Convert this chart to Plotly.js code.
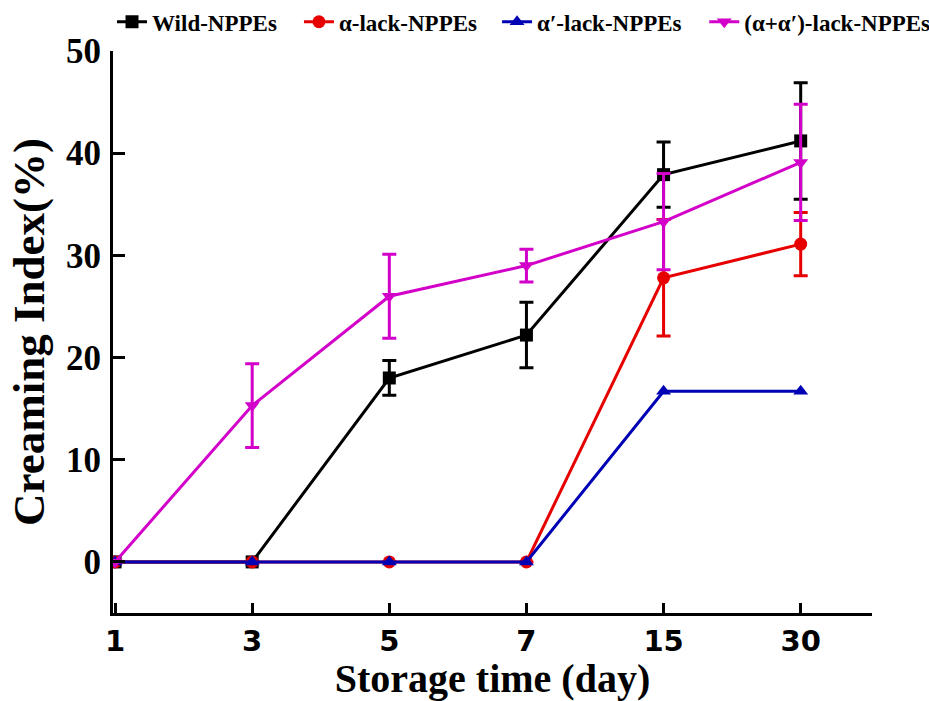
<!DOCTYPE html>
<html><head><meta charset="utf-8">
<script src="https://cdn.plot.ly/plotly-3.0.1.min.js"></script>
<style>html,body{margin:0;padding:0;background:#fff}#chart{width:929px;height:701px}</style>
</head><body><div id="chart"></div>
<script>
const days = ['1','3','5','7','15','30'];
const wild = [0, 0, 18.0, 22.2, 37.9, 41.2];
const wildErr = [0, 0, 1.7, 3.2, 3.2, 5.7];
const alphaLack = [0, 0, 0, 0, 27.8, 31.1];
const alphaLackErr = [0, 0, 0, 0, 5.7, 3.1];
const alphaPrimeLack = [0, 0, 0, 0, 16.7, 16.7];
const alphaPrimeLackErr = [0, 0, 0, 0, 0, 0];
const bothLack = [0, 15.3, 26.0, 29.0, 33.3, 39.1];
const bothLackErr = [0, 4.1, 4.1, 1.6, 4.7, 5.7];
const names = ['Wild-NPPEs', 'α-lack-NPPEs', 'α′-lack-NPPEs', '(α+α′)-lack-NPPEs'];
const colors = ['#000000', '#e60000', '#0000b4', '#d200c8'];
const symbols = ['square', 'circle', 'triangle-up', 'triangle-down'];
const series = [wild, alphaLack, alphaPrimeLack, bothLack];
const errs = [wildErr, alphaLackErr, alphaPrimeLackErr, bothLackErr];
const legendIds = ['legend', 'legend2', 'legend3', 'legend4'];
const legendX = [-0.0013, 0.245, 0.506, 0.779];

const traces = series.map((s, i) => ({
  x: days, y: s, name: names[i], type: 'scatter', mode: 'lines+markers',
  legend: legendIds[i],
  line: {color: colors[i], width: 3},
  marker: {symbol: symbols[i], size: 13, color: colors[i]},
  error_y: {type: 'data', array: errs[i], visible: i !== 2, color: colors[i], thickness: 3, width: 7}
}));

const legendStyle = x => ({orientation: 'h', x: x, xanchor: 'left', y: 1.052, yanchor: 'middle',
  font: {family: 'Liberation Serif', size: 23, weight: 'bold', color: '#000'},
  itemwidth: 30, bgcolor: 'rgba(0,0,0,0)'});

const layout = {
  width: 929, height: 701,
  margin: {l: 113, r: 57, t: 51, b: 88, autoexpand: false},
  paper_bgcolor: '#fff', plot_bgcolor: '#fff',
  showlegend: true,
  xaxis: {type: 'category', range: [-0.015, 5.52], showgrid: false, zeroline: false,
    showline: true, linecolor: '#000', linewidth: 3,
    ticks: 'inside', ticklen: 10, tickwidth: 2.5, tickcolor: '#000',
    tickfont: {family: 'DejaVu Sans', size: 29, weight: 'bold', color: '#000'},
    title: {text: 'Storage time (day)', font: {family: 'Liberation Serif', size: 40, weight: 'bold', color: '#000'}, standoff: 13}},
  yaxis: {range: [-5, 50], tickvals: [0, 10, 20, 30, 40, 50], showgrid: false, zeroline: false,
    showline: true, linecolor: '#000', linewidth: 3,
    ticks: 'inside', ticklen: 12, tickwidth: 2.5, tickcolor: '#000',
    tickfont: {family: 'Liberation Serif', size: 35, weight: 'bold', color: '#000'},
    ticklabelstandoff: 2,
    title: {text: 'Creaming Index(%)', font: {family: 'Liberation Serif', size: 45, weight: 'bold', color: '#000'}, standoff: 8}}
};
legendIds.forEach((id, i) => { layout[id] = legendStyle(legendX[i]); });
Plotly.newPlot('chart', traces, layout, {displayModeBar: false, responsive: false});
</script></body></html>
